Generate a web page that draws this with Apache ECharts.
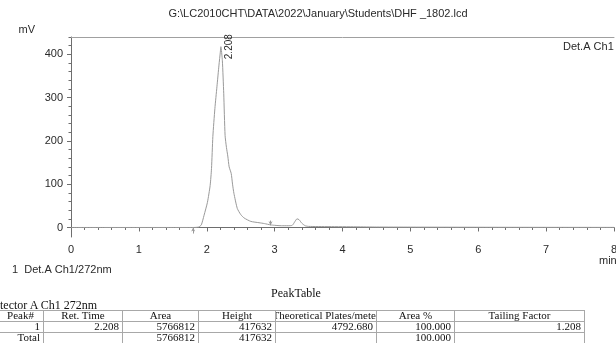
<!DOCTYPE html>
<html>
<head>
<meta charset="utf-8">
<script src="https://cdn.jsdelivr.net/npm/echarts@6/dist/echarts.min.js"></script>
<style>
  html, body { margin: 0; padding: 0; background: #fff; }
  #chart { position: absolute; left: 0; top: 0; width: 616px; height: 343px; }
  #peaktable {
    position: absolute; left: 0; top: 0; width: 616px; height: 343px; overflow: hidden;
    font-family: "Liberation Serif", "Times New Roman", serif; font-size: 11px; color: #111;
  }
  .t { position: absolute; white-space: nowrap; line-height: 11px; height: 11px; }
  .c { display: flex; justify-content: center; overflow: hidden; }
  .r { text-align: right; overflow: hidden; }
  .hl { position: absolute; height: 1px; background: #a8a8a8; }
  .vl { position: absolute; width: 1px; background: #a8a8a8; }
</style>
</head>
<body>
<div id="chart"></div>
<div id="peaktable"></div>
<script>
  const titleText = "G:\\LC2010CHT\\DATA\\2022\\January\\Students\\DHF _1802.lcd";
  const detectorName = "Det.A Ch1";
  const legendText = "1  Det.A Ch1/272nm";
  const xUnit = "min";

  // chromatogram trace, time in min, signal in mV
  const timeMin = [0, 0.5, 1.0, 1.5, 1.80, 1.88, 1.92, 1.96, 2.01, 2.05, 2.07, 2.09, 2.12, 2.15, 2.18,
    2.20, 2.208, 2.23, 2.25, 2.27, 2.29, 2.31, 2.33, 2.36, 2.38, 2.40, 2.45, 2.50, 2.55, 2.65,
    2.77, 2.85, 2.94, 3.00, 3.10, 3.20, 3.26, 3.30, 3.33, 3.36, 3.40, 3.45, 3.50, 3.80, 4.20,
    4.50, 5.00, 6.00, 7.00, 8.00];
  const signalMv = [0, 0, 0, 0, 0, 1, 6, 28, 58, 97, 136, 210, 275, 325, 375,
    405, 417.6, 385, 310, 213, 185, 165, 140, 125, 100, 79, 44, 30, 22, 14,
    11, 9, 6, 5, 4, 4, 5, 14, 20, 18, 10, 4, 2.5, 2, 1.5,
    1, 0.8, 0.5, 0.3, 0.2];

  // integration start / end marks (time, from mV, to mV)
  const markTimes = [1.80, 2.94];
  const markFrom = [-14, 16];
  const markTo = [0, 5];

  const xTicks = [0, 1, 2, 3, 4, 5, 6, 7, 8];
  const yTicks = [0, 100, 200, 300, 400];
  const yMinorTicks = [0, 20, 40, 60, 80, 100, 120, 140, 160, 180, 200, 220, 240, 260, 280,
    300, 320, 340, 360, 380, 400, 420, 440];

  // peak table
  const tableTitle = "PeakTable";
  const tableDetector = "Detector A Ch1 272nm";
  const tableHeaders = ["Peak#", "Ret. Time", "Area", "Height", "Theoretical Plates/meter", "Area %", "Tailing Factor"];
  const peakNo = [1];
  const retTimes = [2.208];
  const areas = [5766812];
  const heights = [417632];
  const plates = [4792.680];
  const areaPct = [100.000];
  const tailing = [1.208];
  const totalRow = ["Total", "", "5766812", "417632", "", "100.000", ""];

  const AXIS = "#6e6e6e";
  const TEXT = "#2a2a2a";
  const TRACE = "#9a9a9a";
  const FONT = "'Liberation Sans', Arial, sans-serif";

  const chart = echarts.init(document.getElementById("chart"), null, { renderer: "canvas" });

  const markLines = markTimes.map((t, i) => [
    { coord: [t, markFrom[i]] },
    { coord: [t, markTo[i]] },
  ]);

  const option = {
    backgroundColor: "#fff",
    animation: false,
    grid: { left: 71, right: 2, top: 37, height: 200, containLabel: false, outerBoundsMode: "none" },
    graphic: [
      { type: "text", x: 318, y: 14, style: { text: titleText, font: "11px " + FONT, fill: TEXT, align: "center", verticalAlign: "middle" } },
      { type: "text", x: 563, y: 47, style: { text: detectorName, font: "11px " + FONT, fill: TEXT, verticalAlign: "middle" } },
      { type: "text", x: 12, y: 270, style: { text: legendText, font: "11px " + FONT, fill: TEXT, verticalAlign: "middle" } },
      { type: "text", x: 599, y: 261, style: { text: xUnit, font: "11px " + FONT, fill: TEXT, verticalAlign: "middle" } },
    ],
    xAxis: [
      {
        type: "value", min: xTicks[0], max: xTicks[xTicks.length - 1], interval: 1,
        axisLine: { lineStyle: { color: AXIS, width: 1 } },
        axisTick: { length: 4, lineStyle: { color: AXIS } },
        minorTick: { show: true, splitNumber: 5, length: 2.5, lineStyle: { color: AXIS } },
        axisLabel: { color: TEXT, fontSize: 11, fontFamily: FONT, margin: 7 },
        splitLine: { show: false },
      },
      {
        type: "value", position: "top", min: 0, max: 8,
        axisLine: { show: true, onZero: false, lineStyle: { color: "#a0a0a0", width: 1 } },
        axisTick: { show: false }, axisLabel: { show: false }, splitLine: { show: false },
      },
    ],
    yAxis: [
      {
        type: "value", min: -22, max: 440,
        axisLine: { show: true, lineStyle: { color: AXIS, width: 1 } },
        axisTick: { show: true, length: 4, customValues: yTicks, lineStyle: { color: AXIS } },
        axisLabel: { color: TEXT, fontSize: 11, fontFamily: FONT, margin: 8, customValues: yTicks },
        splitLine: { show: false },
        name: "mV", nameLocation: "end", nameGap: 2,
        nameTextStyle: { color: TEXT, fontSize: 11, fontFamily: FONT, align: "right", verticalAlign: "bottom", padding: [0, 36, 0, 0] },
      },
      {
        type: "value", min: -22, max: 440, position: "left",
        axisLine: { show: false },
        axisTick: { show: true, length: 2.5, customValues: yMinorTicks, lineStyle: { color: AXIS } },
        axisLabel: { show: false }, splitLine: { show: false },
      },
    ],
    series: [
      {
        type: "line",
        xAxisIndex: 0, yAxisIndex: 0,
        data: timeMin.map((t, i) => [t, signalMv[i]]),
        showSymbol: false, smooth: 0.2,
        lineStyle: { color: TRACE, width: 1 },
        silent: true,
        markLine: {
          silent: true, symbol: ["none", "arrow"], symbolSize: [3, 4],
          lineStyle: { color: TRACE, width: 1, type: "solid" },
          label: { show: false },
          data: markLines,
        },
        markPoint: {
          symbol: "circle", symbolSize: 1, itemStyle: { color: "rgba(0,0,0,0)" },
          data: retTimes.map((t, i) => ({ coord: [t, heights[i] / 1000], value: t.toFixed(3) })),
          label: { show: true, position: "inside", rotate: 90, offset: [0, 8], color: TEXT, fontSize: 10, fontFamily: FONT, formatter: (p) => p.value },
        },
      },
    ],
  };
  chart.setOption(option);

  // peak table below the chart
  const tbl = document.getElementById("peaktable");
  const colEdges = [-3, 43, 122, 198, 275, 376, 454, 584];
  const rowTops = [310, 321, 332];
  function addEl(cls, css, text) {
    const d = document.createElement("div");
    d.className = cls;
    Object.assign(d.style, css);
    if (text !== undefined) d.textContent = text;
    tbl.appendChild(d);
    return d;
  }
  addEl("t", { left: "0px", width: "592px", top: "288px", textAlign: "center", fontSize: "12px" }, tableTitle);
  addEl("t", { left: "-200px", width: "297px", top: "300px", textAlign: "right", fontSize: "12px" }, tableDetector);

  const bodyRows = peakNo.map((n, i) => [
    String(n), retTimes[i].toFixed(3), String(areas[i]), String(heights[i]),
    plates[i].toFixed(3), areaPct[i].toFixed(3), tailing[i].toFixed(3),
  ]);
  bodyRows.push(totalRow);

  tableHeaders.forEach((h, c) => {
    const x0 = colEdges[c], x1 = colEdges[c + 1];
    addEl("t c", { left: x0 + 1 + "px", width: x1 - x0 - 1 + "px", top: rowTops[0] + "px" }).appendChild(document.createTextNode(h));
  });
  bodyRows.forEach((row, r) => {
    row.forEach((v, c) => {
      const x0 = colEdges[c], x1 = colEdges[c + 1];
      addEl("t r", { left: x0 + 1 + "px", width: x1 - x0 - 4 + "px", top: rowTops[r + 1] + "px" }, v);
    });
  });
  rowTops.concat([343]).forEach((y) => {
    addEl("hl", { left: colEdges[0] + "px", width: colEdges[colEdges.length - 1] - colEdges[0] + 1 + "px", top: y + "px" });
  });
  colEdges.forEach((x) => {
    addEl("vl", { left: x + "px", top: rowTops[0] + "px", height: "33px" });
  });
</script>
</body>
</html>
